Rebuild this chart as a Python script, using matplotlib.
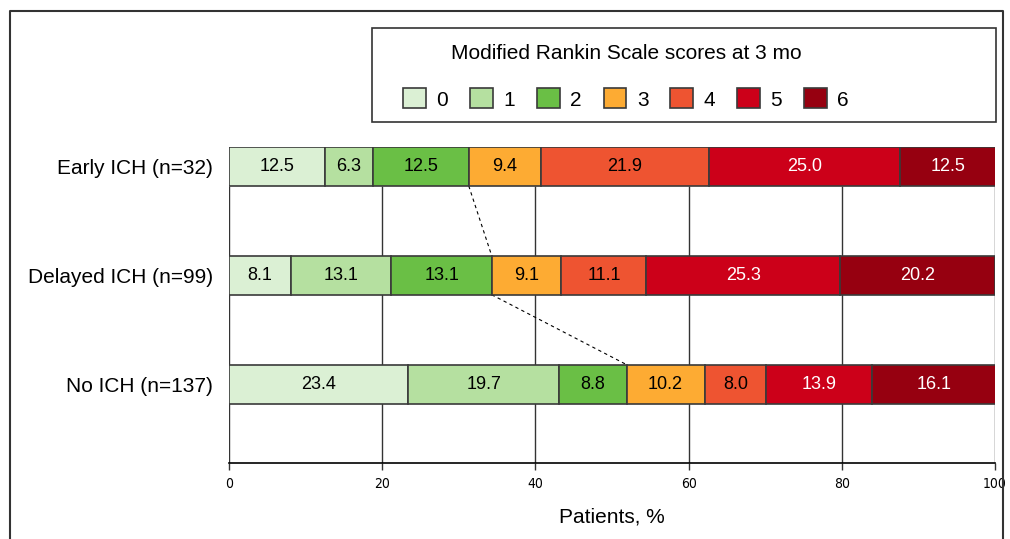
import matplotlib
matplotlib.use('Agg')
import matplotlib.pyplot as plt
from matplotlib.lines import Line2D
from matplotlib.patches import Patch, Rectangle

plt.rcParams['font.family'] = ['Liberation Sans', 'DejaVu Sans']

groups = ['Early ICH (n=32)', 'Delayed ICH (n=99)', 'No ICH (n=137)']
scores = ['0', '1', '2', '3', '4', '5', '6']
values = [
    [12.5, 6.3, 12.5, 9.4, 21.9, 25.0, 12.5],
    [8.1, 13.1, 13.1, 9.1, 11.1, 25.3, 20.2],
    [23.4, 19.7, 8.8, 10.2, 8.0, 13.9, 16.1],
]
colors = ['#dbf0d4', '#b5e0a0', '#6abf45', '#fdab33', '#ee5431', '#cc0019', '#960010']
text_colors = ['black'] * 5 + ['white'] * 2
ticks = [0, 20, 40, 60, 80, 100]

BAR_H = 0.358
ypos = [2, 1, 0]

fig = plt.figure(figsize=(10.10, 5.39), dpi=100)
ax = fig.add_axes([229 / 1010, 76 / 539, 766 / 1010, 316 / 539])

# gridlines stop under the top bar
ax.vlines(ticks, -0.725, 2 - BAR_H / 2, color='#333333', lw=1.0, zorder=0)

for y, row in zip(ypos, values):
    left = 0
    for v, c, tc in zip(row, colors, text_colors):
        ax.barh(y, v, left=left, height=BAR_H, color=c, edgecolor='#3a3a3a', lw=1.2, zorder=2)
        ax.text(left + v / 2, y, f'{v:.1f}', ha='center', va='center', fontsize=13, color=tc, zorder=3)
        left += v

# dashed connectors between mRS 0-2 and 3-6
cum = [sum(r[:3]) for r in values]
for i in range(len(ypos) - 1):
    ax.plot([cum[i], cum[i + 1]], [ypos[i] - BAR_H / 2, ypos[i + 1] + BAR_H / 2],
            ls=(0, (3, 3)), color='black', lw=0.8, zorder=1)

ax.set_xlim(0, 100)
ax.set_ylim(-0.725, 2 + BAR_H / 2)
ax.set_yticks(ypos)
ax.set_yticklabels(groups, fontsize=15)
ax.tick_params(axis='y', length=0, pad=11.5)
ax.set_xticks(ticks)
ax.set_xticklabels([str(t) for t in ticks], family='DejaVu Sans', fontstretch='condensed', fontsize=10)
ax.tick_params(axis='x', length=5, width=1, pad=5, color='#333333')
for s in ['left', 'right', 'top']:
    ax.spines[s].set_visible(False)
ax.spines['bottom'].set_linewidth(1.2)
ax.set_xlabel('Patients, %', fontsize=15, labelpad=12)

handles = [Patch(facecolor=c, edgecolor='#3a3a3a', lw=1.2) for c in colors]
leg = fig.legend(handles, scores, ncol=7, title='Modified Rankin Scale scores at 3 mo',
                 loc='center', bbox_to_anchor=(626 / 1010, 1 - 77 / 539),
                 fontsize=15, title_fontsize=15, frameon=False,
                 handlelength=1.1, handleheight=1.1, handletextpad=0.5, columnspacing=1.05,
                 borderpad=0.0)
leg._legend_box.sep = 18

# legend frame
fig.add_artist(Rectangle((372 / 1010, 1 - 122 / 539), 624 / 1010, 94 / 539,
                         transform=fig.transFigure, fill=False, edgecolor='#333333', lw=1.2))

# outer frame (left, top, right)
fig.add_artist(Line2D([9.5 / 1010, 9.5 / 1010, 1003 / 1010, 1003 / 1010],
                      [0, 1 - 10.5 / 539, 1 - 10.5 / 539, 0], color='#333333', lw=1.5))

fig.savefig('out.png', dpi=100)
